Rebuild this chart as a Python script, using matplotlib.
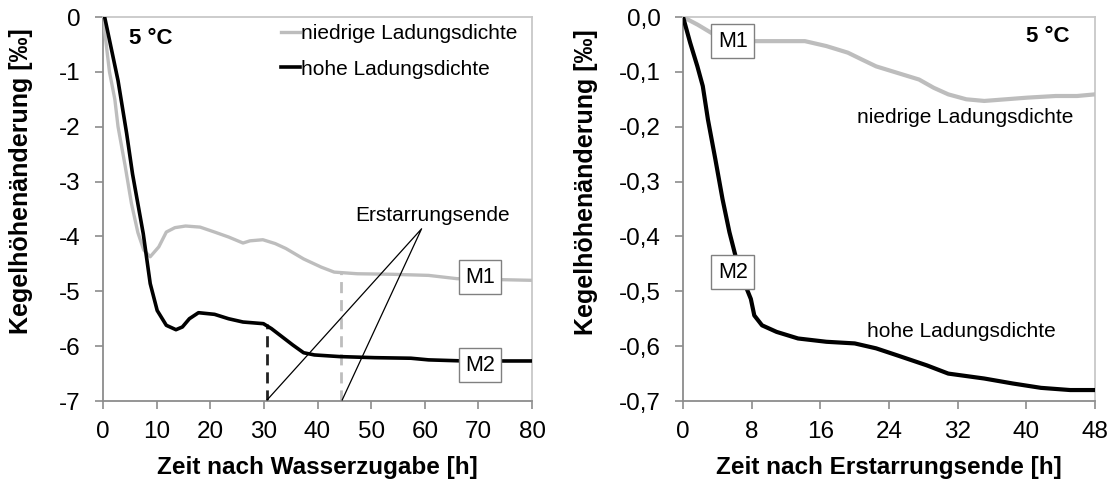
import matplotlib
matplotlib.use("Agg")
import matplotlib.pyplot as plt
from matplotlib.ticker import FuncFormatter

plt.rcParams['font.family'] = ['Liberation Sans', 'DejaVu Sans']
plt.rcParams['axes.unicode_minus'] = False

# Left panel: time after water addition [h] vs. cone height change [permille]
t_low = [0, 1.2, 2.2, 2.8, 4.1, 5.3, 6.5, 7.6, 8.8, 10.4, 11.8, 13.4, 15.4, 18.1, 20.8, 23.4, 26.1,
         27.4, 29.8, 32.1, 34.1, 37.4, 40.7, 43.1, 47.4, 54, 60.7, 66, 80]
h_low = [0, -1.0, -1.5, -2.0, -2.7, -3.4, -3.93, -4.25, -4.37, -4.19, -3.92, -3.84, -3.81, -3.83,
         -3.92, -4.01, -4.12, -4.08, -4.06, -4.13, -4.22, -4.41, -4.56, -4.65, -4.68, -4.69, -4.71,
         -4.77, -4.8]
t_high = [0.3, 2.8, 4.4, 5.5, 7.5, 8.8, 10.1, 11.8, 13.6, 14.8, 16.1, 17.8, 20.8, 23.4, 26.1,
          29.9, 31.4, 33.4, 35.4, 37.4, 39.4, 44.1, 50.7, 57.4, 60.7, 67.4, 80]
h_high = [0, -1.16, -2.12, -2.86, -3.95, -4.86, -5.35, -5.62, -5.7, -5.65, -5.5, -5.39, -5.42,
          -5.5, -5.56, -5.59, -5.68, -5.83, -5.98, -6.12, -6.16, -6.19, -6.21, -6.22, -6.25, -6.27, -6.27]
# end of setting (Erstarrungsende) for both mixes
set_end_high = (30.5, -5.6)
set_end_low = (44.3, -4.66)

# Right panel: time after end of setting [h]
r_t_low = [0, 1.7, 3.3, 5, 8.3, 14.2, 16.7, 19.2, 20.9, 22.5, 25, 27.5, 29.2, 30.9, 33, 35.1,
           37.6, 40.1, 43.4, 45.9, 48]
r_h_low = [0, -0.014, -0.029, -0.041, -0.044, -0.044, -0.053, -0.065, -0.078, -0.09, -0.102,
           -0.114, -0.129, -0.141, -0.15, -0.153, -0.15, -0.147, -0.144, -0.144, -0.141]
r_t_high = [0, 0.83, 1.67, 2.3, 2.9, 3.76, 4.6, 5.4, 6.3, 7.1, 7.9, 8.3, 9.2, 10.9, 13.4, 16.7,
            20, 22.5, 25, 28.4, 30.9, 35.1, 38.4, 41.7, 45.1, 48]
r_h_high = [0, -0.047, -0.09, -0.126, -0.187, -0.259, -0.332, -0.392, -0.447, -0.483, -0.514,
            -0.544, -0.562, -0.574, -0.586, -0.592, -0.595, -0.604, -0.617, -0.635, -0.65,
            -0.659, -0.668, -0.676, -0.68, -0.68]

GRAY = '#bdbdbd'
SPINE = '#8c8c8c'
FRAME = '#c8c8c8'

fig = plt.figure(figsize=(11.15, 4.79), dpi=100)
ax1 = fig.add_axes([0.0924, 0.1628, 0.3848, 0.8017])
ax2 = fig.add_axes([0.6126, 0.1628, 0.3695, 0.8017])


def style_axes(ax):
    ax.spines['left'].set_color(SPINE)
    ax.spines['bottom'].set_color(SPINE)
    ax.spines['top'].set_color(FRAME)
    ax.spines['right'].set_color(FRAME)
    for s in ax.spines.values():
        s.set_linewidth(1.3)
    ax.tick_params(direction='out', length=6, width=1.2, color=SPINE,
                   labelsize=17.5)
    ax.tick_params(axis='x', pad=8.5)
    ax.tick_params(axis='y', pad=10)


def box_label(ax, x, y, s):
    ax.text(x, y, s, ha='center', va='center', fontsize=15.5, zorder=5,
            bbox=dict(boxstyle='square,pad=0.3', fc='white', ec='#808080', lw=1))


# ---- left panel ----
style_axes(ax1)
ax1.plot(t_low, h_low, color=GRAY, lw=2.4, label='niedrige Ladungsdichte', zorder=3)
ax1.plot(t_high, h_high, color='black', lw=2.6, label='hohe Ladungsdichte', zorder=3)
ax1.plot([set_end_high[0]] * 2, [-7, set_end_high[1]], color='#222222', lw=2, ls=(0, (4, 2.5)), zorder=2)
ax1.plot([set_end_low[0]] * 2, [-7, set_end_low[1]], color=GRAY, lw=2, ls=(0, (4, 2.5)), zorder=2)

ax1.text(61.4, -3.62, 'Erstarrungsende', ha='center', va='center', fontsize=15)
ax1.plot([30.6, 59.4, 44.6], [-6.98, -3.86, -6.98], color='black', lw=0.9, zorder=4)
box_label(ax1, 70.3, -4.74, 'M1')
box_label(ax1, 70.3, -6.35, 'M2')
ax1.text(4.8, -0.4, '5 °C', fontsize=16, fontweight='bold', va='center')

ax1.set_xlim(0, 80)
ax1.set_ylim(-7, 0)
ax1.set_xticks(range(0, 81, 10))
ax1.set_yticks(range(-7, 1))
ax1.set_xlabel('Zeit nach Wasserzugabe [h]', fontsize=17.5, fontweight='bold', labelpad=9)
ax1.set_ylabel('Kegelhöhenänderung [‰]', fontsize=18, fontweight='bold')
ax1.yaxis.set_label_coords(-0.163, 0.573)
ax1.legend(loc='upper right', bbox_to_anchor=(1.0, 1.02), frameon=False, fontsize=15,
           handlelength=0.9, handletextpad=0.05, labelspacing=0.8, borderaxespad=0.3)

# ---- right panel ----
style_axes(ax2)
ax2.plot(r_t_low, r_h_low, color=GRAY, lw=3, zorder=3)
ax2.plot(r_t_high, r_h_high, color='black', lw=3, zorder=3)
box_label(ax2, 5.8, -0.044, 'M1')
box_label(ax2, 5.8, -0.465, 'M2')
ax2.text(32.9, -0.184, 'niedrige Ladungsdichte', ha='center', va='center', fontsize=15)
ax2.text(32.4, -0.574, 'hohe Ladungsdichte', ha='center', va='center', fontsize=15)
ax2.text(45, -0.035, '5 °C', ha='right', va='center', fontsize=16, fontweight='bold')

ax2.set_xlim(0, 48)
ax2.set_ylim(-0.7, 0)
ax2.set_xticks(range(0, 49, 8))
ax2.set_yticks([-0.7, -0.6, -0.5, -0.4, -0.3, -0.2, -0.1, 0.0])
ax2.yaxis.set_major_formatter(FuncFormatter(lambda v, pos: '{:.1f}'.format(v).replace('.', ',').replace('-0,0', '0,0')))
ax2.set_xlabel('Zeit nach Erstarrungsende [h]', fontsize=17.5, fontweight='bold', labelpad=9)
ax2.set_ylabel('Kegelhöhenänderung [‰]', fontsize=18, fontweight='bold')
ax2.yaxis.set_label_coords(-0.206, 0.570)

fig.savefig('out.png', dpi=100)
